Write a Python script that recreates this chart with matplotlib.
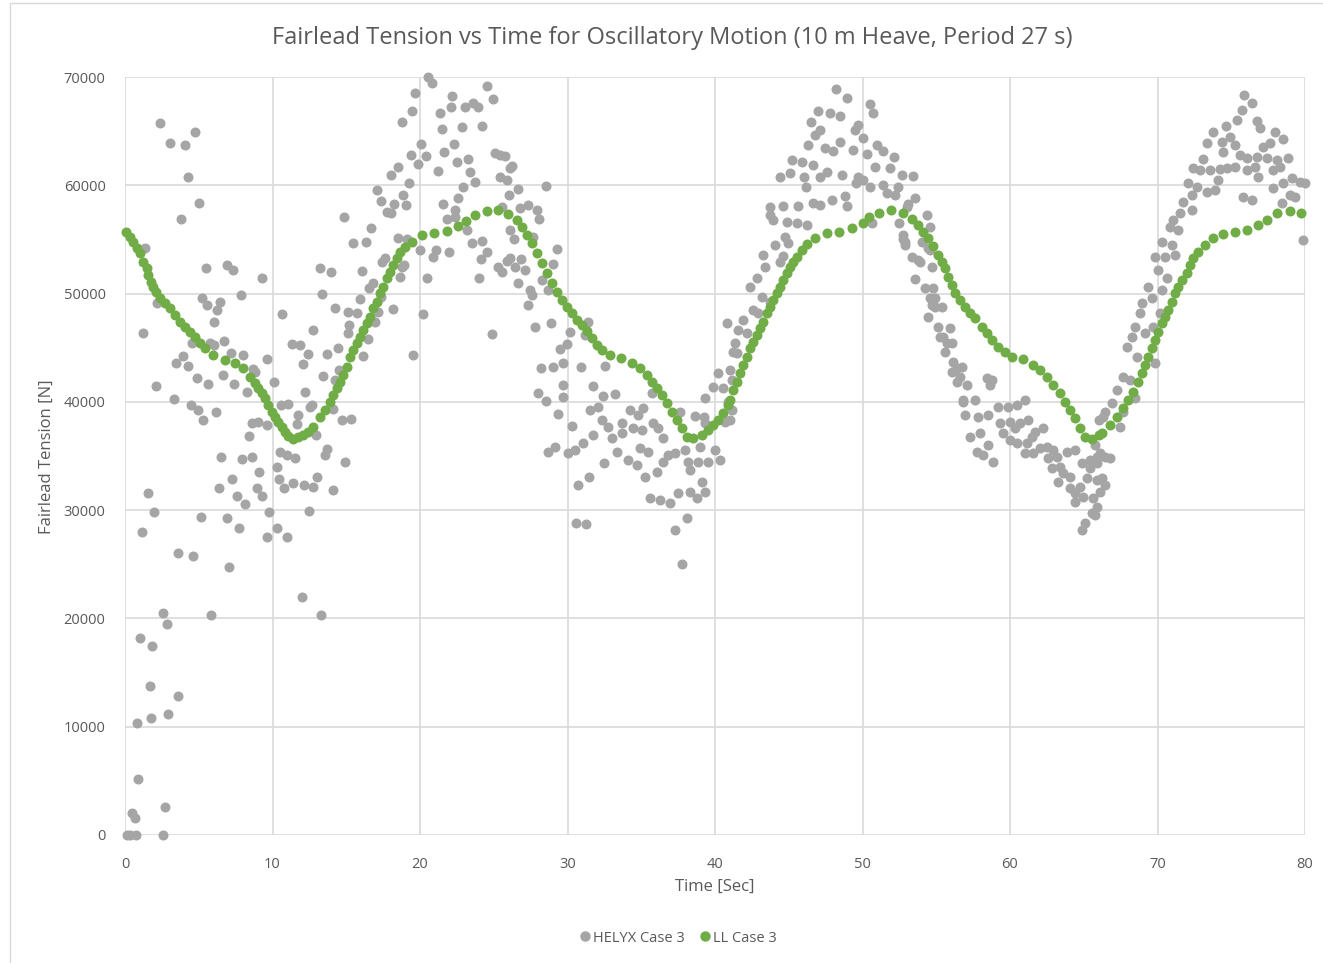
import matplotlib
matplotlib.use("Agg")
import matplotlib.pyplot as plt
from matplotlib.patches import Rectangle
from matplotlib.lines import Line2D

# ---------------- data ----------------
x_ticks = [0, 10, 20, 30, 40, 50, 60, 70, 80]
y_ticks = [0, 10000, 20000, 30000, 40000, 50000, 60000, 70000]

title = "Fairlead Tension vs Time for Oscillatory Motion (10 m Heave, Period 27 s)"
x_label = "Time [Sec]"
y_label = "Fairlead Tension [N]"
series_names = ["HELYX Case 3", "LL Case 3"]

# HELYX Case 3 (scattered CFD samples), split in time windows
helyx_t_a = [
    2.37, 3.05, 4.07, 4.75, 4.25, 5.04, 3.77, 1.36,
    5.47, 6.94, 7.34, 9.27, 7.86, 2.15, 5.24, 5.54,
    6.44, 6.22, 6.03, 1.24, 4.52, 5.76, 6.03, 6.73,
    7.16, 8.02, 9.65, 10.62, 11.30, 11.86, 12.38, 12.05,
    12.77, 3.46, 3.95, 4.25, 8.70,
    4.86, 5.65, 6.66, 7.41, 8.25, 8.81, 10.12, 12.20,
    2.08, 3.32, 4.47, 4.97, 5.31, 6.15, 8.59, 9.04,
    9.60, 8.43, 6.51, 7.91, 8.63, 9.11, 7.23, 6.37,
    7.57, 8.14, 8.93, 9.31, 9.76, 10.28, 10.96, 9.60,
    7.75, 6.89, 5.15, 1.54, 1.97, 1.17, 3.57, 4.63,
    7.05, 11.98, 10.51, 10.96, 11.53, 10.33, 10.46, 10.78,
    11.37, 12.16, 12.50, 10.55, 11.07, 11.71, 11.64, 12.54,
    2.60, 2.87, 1.02, 1.85, 5.83, 1.67, 3.62, 2.94,
    1.74, 0.84, 0.90, 0.50, 0.68, 2.73, 0.11, 0.73,
    2.60, 0.35,
    13.40, 14.53, 14.24, 12.66, 14.08, 14.73, 15.32, 12.93,
    13.67, 13.56, 14.92, 13.00, 12.72, 14.12, 13.27,
]
helyx_n_a = [
    65720, 63930, 63720, 64890, 60800, 58390, 56860, 54180,
    52360, 52640, 52180, 51410, 49870, 49160, 49560, 48950,
    49250, 48480, 47350, 46330, 45410, 45410, 45250, 45650,
    44540, 44330, 43930, 48090, 45320, 45250, 44390, 43470,
    46640, 43620, 44240, 43310, 43030,
    42180, 41650, 42480, 41650, 40940, 42790, 41860, 40940,
    41460, 40240, 39710, 39250, 38330, 39030, 38020, 38170,
    37860, 36850, 34880, 34720, 34940, 33550, 32850, 32080,
    31310, 30570, 32020, 31310, 29800, 28320, 27550, 27550,
    28320, 29300, 29400, 31610, 29800, 27980, 26010, 25770,
    24780, 22010, 35400, 35090, 34790, 34010, 32850, 32080,
    32540, 32320, 29950, 39710, 39770, 38790, 37930, 39560,
    20470, 19460, 18220, 17480, 20320, 13760, 12840, 11170,
    10830, 10310, 5140, 2000, 1600, 2560, 0, 0,
    0, 0,
    42390, 42940, 42020, 39710, 39310, 38330, 38390, 36940,
    35620, 35090, 34470, 33030, 32170, 31860, 20320,
]

helyx_t_b = [
    20.56, 20.79, 19.68, 19.44, 18.76, 22.15, 22.10, 21.36,
    21.47, 22.83, 23.05, 23.61, 23.95, 24.52, 24.93, 24.22,
    20.07, 19.37, 20.41, 19.89, 18.49, 18.03, 17.06, 19.25,
    18.87, 17.36, 18.24, 19.05, 17.78, 18.01, 14.87, 16.66,
    16.34, 15.48, 18.53, 19.10, 20.00, 21.08, 20.90, 21.99,
    20.45, 18.76, 18.94, 17.63, 17.40, 16.09, 13.22, 13.94,
    18.64, 16.84, 16.56, 15.93, 17.36, 18.15, 20.23, 24.86,
    14.24, 13.33, 15.14, 15.71, 17.18, 16.95, 15.21, 15.10,
    16.50, 14.46, 13.67, 16.16, 19.55, 21.24, 21.65, 22.33,
    22.53, 23.27, 23.39, 23.73, 22.94, 22.60, 21.58, 21.81,
    22.37, 23.16, 23.50, 24.18, 24.52, 24.11, 24.02, 25.08,
    25.42, 25.42, 25.88, 25.54, 25.31, 25.88, 25.54, 26.10,
    26.06, 22.37,
]
helyx_n_b = [
    69970, 69480, 68550, 66890, 65820, 68250, 67200, 66710,
    65200, 65360, 67200, 67570, 67200, 69200, 67940, 65480,
    63790, 62800, 62710, 61940, 61720, 60950, 59570, 60180,
    59100, 58550, 58240, 58180, 57560, 57470, 57100, 56030,
    54790, 54640, 55100, 55010, 54020, 54020, 53410, 53870,
    51410, 52480, 52640, 53250, 52950, 52120, 52330, 52020,
    51500, 50950, 50490, 49470, 49710, 48550, 48090, 46240,
    48640, 49960, 48330, 48180, 48330, 47400, 47100, 46330,
    45780, 44950, 44420, 44240, 44330, 61320, 63100, 63790,
    62120, 62400, 61260, 60330, 59870, 58860, 58240, 56860,
    57720, 55870, 54640, 54880, 53870, 53190, 51410, 62950,
    62800, 60800, 60490, 58020, 52480, 53040, 52020, 61570,
    59100, 57100,
]

helyx_t_c = [
    25.76, 26.26, 26.62, 28.54, 26.78, 27.34, 27.91, 28.09,
    26.10, 26.40, 27.68, 29.27, 26.10, 26.85, 26.44, 27.12,
    26.67, 29.04, 28.29, 28.70, 27.46, 27.57, 27.30, 27.80,
    28.86, 30.17, 31.41, 31.19, 29.94, 29.49, 28.18, 29.04,
    29.72, 30.92, 32.54, 29.72, 27.98, 28.52, 29.72, 29.38,
    31.71, 30.28, 32.38, 33.22, 31.53, 32.09, 32.32, 32.77,
    33.67, 33.72, 34.24, 34.80, 35.14, 34.46, 35.03, 35.71,
    35.82, 36.16, 36.50, 37.63, 38.64, 39.28, 39.32, 31.75,
    31.07, 30.51, 29.15, 28.66, 30.06, 33.00, 33.33, 32.50,
    34.12, 34.69, 34.92, 35.48, 35.25, 36.05, 36.84, 36.50,
    37.29, 37.97, 38.19, 38.31, 38.98, 38.87, 39.55, 40.00,
    40.34, 30.73, 31.46, 35.59, 36.27, 36.95, 37.51, 38.31,
    38.76, 39.10, 39.32, 38.08, 37.29, 37.74, 30.55, 31.25,
    40.79, 41.36, 41.24, 40.23, 39.89, 40.56, 40.68, 40.90,
    39.32,
]
helyx_n_c = [
    62710, 61780, 59630, 59970, 57880, 58180, 57720, 56860,
    55870, 55010, 55250, 54120, 53250, 53190, 52480, 52180,
    51010, 52730, 51260, 50330, 50330, 49870, 48950, 46890,
    47260, 46480, 47400, 46180, 45320, 44850, 43160, 43250,
    43620, 43250, 43310, 41560, 40850, 40080, 40480, 38850,
    41500, 37770, 40540, 40700, 39250, 39560, 38330, 37710,
    38020, 37100, 39250, 38790, 39400, 37560, 37400, 40790,
    38020, 37560, 36630, 39090, 38690, 38630, 40330, 36940,
    36230, 35550, 35860, 35400, 35250, 36630, 35400, 34330,
    34630, 34170, 35710, 35400, 33090, 33550, 35090, 34470,
    35250, 35550, 34470, 33710, 35860, 34470, 34470, 35550,
    34630, 32320, 33090, 31090, 30940, 30630, 31560, 31710,
    31090, 32630, 31710, 29250, 28170, 25030, 28780, 28720,
    47310, 45410, 44630, 42640, 41400, 41250, 38170, 40020,
    38020,
]

helyx_t_d = [
    48.20, 48.97, 50.51, 50.69, 47.01, 47.80, 48.47, 46.51,
    47.12, 46.78, 49.72, 49.49, 50.06, 46.33, 47.46, 48.02,
    48.47, 49.33, 50.28, 50.96, 51.41, 52.16, 45.20, 45.88,
    46.67, 47.57, 44.41, 45.08, 46.03, 47.12, 48.59, 49.72,
    50.06, 50.85, 51.86, 52.66, 53.40, 46.17, 49.56, 50.51,
    51.41, 51.64, 52.43, 52.20, 43.73, 44.63, 45.65, 46.62,
    47.12, 47.91, 48.81, 48.93, 43.73, 43.95, 44.86, 45.54,
    46.21, 53.56, 53.11, 54.35, 54.58, 50.62, 52.49, 52.77,
    52.88, 54.01, 54.58, 53.33, 53.90, 53.56, 54.24, 54.80,
    54.58, 54.92, 54.46, 55.14, 55.93, 55.48, 55.71, 56.05,
    56.39, 56.84, 44.75, 44.97, 44.07, 43.28, 43.39, 44.41,
    44.63, 42.82, 42.37, 43.16, 43.73, 42.60, 41.92, 41.58,
    42.15, 41.47, 41.02, 41.13, 41.13, 41.02, 42.94,
]
helyx_n_d = [
    68870, 68030, 67510, 66650, 66890, 66650, 66400, 65820,
    65110, 64650, 65570, 65110, 64340, 63720, 63420, 63170,
    64030, 63260, 62890, 63720, 63170, 62640, 62340, 62180,
    61870, 61260, 60800, 61110, 60800, 60800, 60950, 60800,
    60490, 61720, 61570, 60950, 60860, 59870, 60180, 59870,
    60030, 59260, 59870, 59100, 58020, 58090, 58090, 58340,
    58180, 58640, 59010, 58090, 57260, 56800, 56640, 56490,
    56330, 58800, 58270, 57260, 56180, 56550, 56550, 55010,
    54490, 54790, 54020, 53410, 52950, 51320, 50490, 50490,
    49560, 48790, 47870, 46940, 46790, 46020, 45410, 42790,
    41860, 40170, 55250, 54640, 54490, 53560, 52480, 52950,
    53470, 51410, 50630, 49710, 49250, 48480, 47560, 46640,
    46330, 44480, 42940, 42020, 39250, 38330, 48180,
]

helyx_t_e = [
    52.99, 52.77, 52.88, 54.69, 54.92, 54.69, 55.37, 55.25,
    56.05, 55.59, 56.16, 56.39, 56.73, 56.61, 57.06, 58.42,
    58.76, 58.64, 56.84, 57.63, 56.95, 57.85, 58.53, 57.29,
    57.97, 58.53, 57.74, 58.19, 58.87, 59.21, 59.89, 60.45,
    61.02, 59.32, 60.00, 59.55, 60.34, 60.68, 61.24, 60.00,
    60.45, 61.13, 61.47, 61.69, 62.26, 61.02, 61.58, 62.03,
    62.49, 62.94, 62.60, 63.16, 63.84, 64.41, 62.83, 63.39,
    63.62, 64.07, 63.28, 64.07, 64.75, 64.86, 65.42, 65.88,
    65.20, 64.41, 64.97, 65.88, 65.65, 66.10, 64.41, 65.54,
    65.88, 65.08, 64.86, 66.10, 53.79, 54.46,
]
helyx_n_e = [
    58020, 55410, 54790, 52480, 49560, 48950, 48790, 46020,
    45410, 44630, 43710, 43100, 43250, 42330, 41560, 42180,
    42020, 41560, 40020, 40170, 38790, 38630, 38790, 36780,
    37100, 36020, 35400, 35090, 34470, 39560, 39560, 39710,
    40170, 38020, 38170, 37100, 37560, 38020, 38330, 36480,
    36170, 36170, 36780, 37250, 37560, 35250, 35250, 35710,
    35860, 35550, 34790, 34940, 35400, 35550, 33860, 34010,
    33400, 33090, 32630, 32020, 32170, 34330, 33860, 34330,
    32940, 31560, 31250, 32780, 31090, 31710, 30780, 29710,
    30320, 28780, 28170, 35250, 53100, 54180,
]

helyx_t_f = [
    75.86, 76.38, 75.71, 75.37, 76.72, 76.95, 74.64, 73.78,
    73.33, 74.92, 74.35, 75.25, 77.97, 78.53, 77.63, 77.17,
    74.46, 75.59, 76.05, 76.72, 77.40, 78.08, 78.87, 73.11,
    72.43, 72.88, 73.56, 74.24, 74.69, 75.25, 76.05, 76.61,
    76.83, 77.85, 78.31, 72.09, 72.66, 73.33, 73.90, 74.12,
    72.32, 71.75, 72.32, 71.53, 71.07, 70.85, 71.41, 75.82,
    76.38, 77.85, 78.53, 79.10, 79.66, 80.00, 78.98, 79.32,
    78.42, 79.89, 70.28, 70.96, 69.83, 70.51, 71.19, 70.06,
    70.62, 69.38, 70.28, 69.61, 68.93, 68.81, 70.17, 69.72,
    68.47, 69.15, 68.25, 67.91, 68.59, 69.83, 67.68, 68.14,
    67.23, 68.47, 66.89, 66.44, 66.33, 67.68, 67.46, 66.01,
    65.76, 66.44, 66.78, 66.21, 66.44, 65.76, 65.42, 65.88,
]
helyx_n_f = [
    68340, 67570, 66950, 66030, 65970, 65260, 65480, 64950,
    63880, 64430, 64030, 63720, 64950, 64250, 63880, 63570,
    63100, 62800, 62490, 62640, 62490, 62340, 62490, 62400,
    61570, 61410, 61410, 61470, 61570, 61720, 61410, 61660,
    60740, 61410, 61720, 60180, 59870, 59410, 59570, 60490,
    59100, 58490, 57720, 57410, 56800, 56180, 55870, 58890,
    58640, 59720, 60180, 60650, 60330, 60180, 59100, 58950,
    58340, 54950, 54790, 54490, 53410, 53410, 53560, 52180,
    51410, 50630, 50330, 49560, 49100, 48180, 48180, 46940,
    46940, 46330, 46020, 45100, 44170, 43560, 42330, 42020,
    41100, 40330, 39870, 39090, 38630, 39090, 37710, 38330,
    36020, 34940, 34790, 32940, 32320, 29550, 34630, 34940,
]

# LL Case 3 (lumped-line model) samples
ll_time = [
    0.07, 0.34, 0.56, 0.79, 1.02, 1.24, 1.47, 1.58, 1.76, 1.92,
    2.08, 2.37, 2.71, 3.05, 3.39, 3.73, 4.07, 4.41, 4.75, 5.08,
    5.42, 5.99, 6.78, 7.46, 8.02, 8.47, 8.81, 9.04, 9.27, 9.49,
    9.72, 9.94, 10.17, 10.40, 10.62, 10.85, 11.07, 11.41, 11.75, 12.09,
    12.43, 12.77, 13.22, 13.56, 13.90, 14.12, 14.35, 14.58, 14.80, 15.03,
    15.25, 15.48, 15.71, 15.93, 16.16, 16.38, 16.61, 16.84, 17.06, 17.29,
    17.51, 17.74, 17.97, 18.19, 18.42, 18.64, 18.98, 19.43, 20.11, 20.94,
    21.81, 22.60, 23.12, 23.73, 24.52, 25.31, 25.99, 26.55, 26.89, 27.23,
    27.57, 27.91, 28.25, 28.59, 28.93, 29.27, 29.61, 29.94, 30.28, 30.62,
    30.96, 31.30, 31.64, 31.98, 32.31, 32.88, 33.63, 34.35, 34.92, 35.37,
    35.71, 36.05, 36.38, 36.72, 37.06, 37.40, 37.74, 38.08, 38.53, 39.10,
    39.55, 39.89, 40.23, 40.56, 40.90, 41.02, 41.24, 41.47, 41.69, 41.92,
    42.15, 42.37, 42.60, 42.82, 43.05, 43.28, 43.50, 43.73, 43.95, 44.18,
    44.41, 44.63, 44.86, 45.08, 45.31, 45.54, 45.88, 46.21, 46.78, 47.57,
    48.43, 49.29, 50.01, 50.46, 51.12, 51.95, 52.77, 53.33, 53.79, 54.12,
    54.46, 54.80, 55.14, 55.37, 55.59, 55.82, 56.05, 56.27, 56.61, 56.95,
    57.29, 57.63, 58.08, 58.42, 58.76, 59.21, 59.66, 60.11, 60.85, 61.54,
    62.03, 62.49, 62.94, 63.39, 63.73, 64.07, 64.41, 64.75, 65.08, 65.54,
    66.05, 66.21, 66.78, 67.23, 67.68, 68.02, 68.36, 68.70, 68.93, 69.15,
    69.38, 69.60, 69.83, 70.06, 70.28, 70.51, 70.73, 70.96, 71.19, 71.41,
    71.64, 71.98, 72.20, 72.43, 72.77, 73.22, 73.74, 74.42, 75.25, 76.09,
    76.84, 77.40, 78.12, 78.98, 79.71,
]
ll_tension = [
    55720, 55250, 54790, 54180, 53720, 52950, 52330, 51720, 51100, 50630,
    50170, 49560, 49100, 48640, 48020, 47400, 46940, 46480, 46020, 45410,
    44950, 44330, 43870, 43560, 43100, 42330, 41710, 41250, 40790, 40330,
    39710, 39090, 38630, 38170, 37710, 37250, 36850, 36540, 36730, 36940,
    37250, 37710, 38630, 39250, 40020, 40630, 41250, 41860, 42480, 43250,
    44170, 44790, 45410, 46020, 46640, 47250, 47870, 48640, 49250, 50020,
    50630, 51410, 52020, 52640, 53250, 53870, 54330, 54790, 55410, 55620,
    55810, 56240, 56730, 57260, 57630, 57720, 57350, 56800, 56180, 55410,
    54640, 53720, 52800, 51870, 50950, 50180, 49410, 48790, 48180, 47560,
    47100, 46570, 45860, 45250, 44790, 44330, 44020, 43620, 43100, 42480,
    41860, 41250, 40630, 39870, 39090, 38330, 37560, 36780, 36630, 36940,
    37400, 37860, 38330, 38940, 39710, 40170, 41100, 41860, 42640, 43400,
    44170, 44950, 45560, 46180, 46790, 47400, 48180, 48790, 49410, 50020,
    50630, 51250, 51870, 52480, 52950, 53410, 54020, 54550, 55100, 55570,
    55720, 56090, 56490, 57050, 57410, 57720, 57470, 56880, 56330, 55720,
    55100, 54410, 53560, 52950, 52330, 51560, 50790, 50020, 49410, 48790,
    48180, 47720, 46940, 46330, 45710, 45100, 44630, 44170, 43930, 43400,
    42940, 42330, 41560, 40790, 40020, 39250, 38480, 37560, 36780, 36580,
    36940, 37100, 37860, 38630, 39400, 40170, 40940, 41860, 42640, 43400,
    44170, 44950, 45710, 46480, 47250, 47870, 48480, 49250, 50020, 50630,
    51250, 51870, 52640, 53250, 53870, 54490, 55100, 55470, 55660, 55870,
    56330, 56800, 57470, 57660, 57470,
]

helyx_time = helyx_t_a + helyx_t_b + helyx_t_c + helyx_t_d + helyx_t_e + helyx_t_f
helyx_tension = helyx_n_a + helyx_n_b + helyx_n_c + helyx_n_d + helyx_n_e + helyx_n_f

# ---------------- style ----------------
GRAY = "#A5A5A5"
GREEN = "#70AD47"
GRID = "#D9D9D9"
TEXT = "#595959"
FONT = ["Open Sans", "DejaVu Sans"]
plt.rcParams["font.family"] = FONT

W, H = 1323, 963
fig = plt.figure(figsize=(W / 100, H / 100), dpi=100)
ax = fig.add_axes([125 / W, 1 - 835 / H, 1180 / W, 758 / H])

# chart-area border
fig.patches.append(Rectangle((10 / W, -0.05), 1.2, 1 - 3 / H + 0.05,
                             transform=fig.transFigure, fill=False,
                             edgecolor=GRID, linewidth=1.0))

ax.scatter(helyx_time, helyx_tension, s=52, color=GRAY, linewidths=0,
           zorder=3, clip_on=False)
ax.scatter(ll_time, ll_tension, s=52, color=GREEN, linewidths=0,
           zorder=4, clip_on=False)

ax.set_xlim(0, 80)
ax.set_ylim(0, 70000)
ax.set_xticks(x_ticks)
ax.set_yticks(y_ticks)
ax.set_xticklabels([str(v) for v in x_ticks])
ax.set_yticklabels([str(v) for v in y_ticks])
ax.grid(True, color=GRID, linewidth=1.2, zorder=0)
ax.set_axisbelow(True)
for s in ax.spines.values():
    s.set_visible(False)
ax.tick_params(length=0, labelsize=10.5, colors=TEXT)
ax.tick_params(axis="x", pad=16)
ax.tick_params(axis="y", pad=14)

fig.text(672 / W, 1 - 38 / H, title, ha="center", va="center",
         fontsize=17, color=TEXT)
fig.text(715 / W, 1 - 887 / H, x_label, ha="center", va="center",
         fontsize=12, color=TEXT)
fig.text(47 / W, 1 - 457 / H, y_label, ha="center", va="center",
         rotation=90, fontsize=12, color=TEXT)

handles = [Line2D([], [], marker="o", linestyle="none", markersize=7.5,
                  markerfacecolor=c, markeredgewidth=0) for c in (GRAY, GREEN)]
leg = fig.legend(handles, series_names, loc="center",
                 bbox_to_anchor=(677 / W, 1 - 938 / H), ncol=2, frameon=False,
                 fontsize=10.5, handletextpad=0.05, columnspacing=0.9,
                 handlelength=1.0)
for t in leg.get_texts():
    t.set_color(TEXT)

fig.savefig("out.png", dpi=100, facecolor="white")
